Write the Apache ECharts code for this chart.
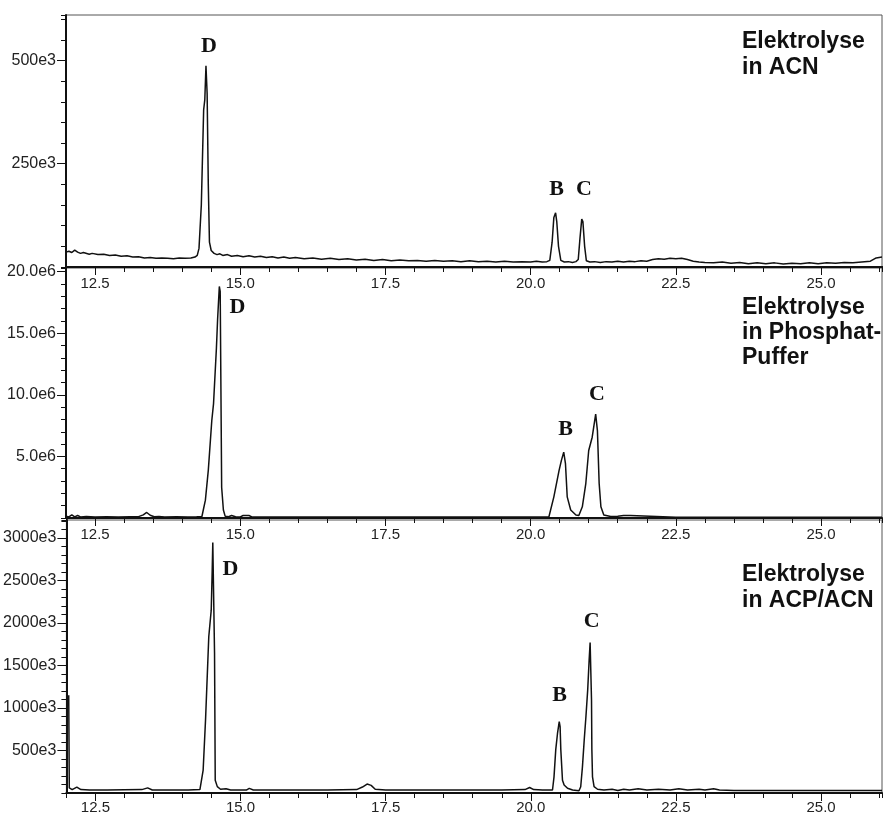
<!DOCTYPE html>
<html>
<head>
<meta charset="utf-8">
<title>Elektrolyse Chromatogramme</title>
<script src="https://cdn.jsdelivr.net/npm/echarts@6/dist/echarts.min.js"></script>
<style>
    html, body { margin: 0; padding: 0; background: #fff; }
    #chart { width: 884px; height: 816px; }
</style>
</head>
<body>
<div id="chart"></div>
<script>

    // retention time (min) vs. signal
    const acnTrace = [
        [12.00, 36000], [12.05, 38000], [12.10, 35000], [12.15, 41000], [12.20, 36000], [12.25, 33000],
        [12.30, 35000], [12.40, 31000], [12.45, 33000], [12.55, 30000], [12.65, 31000], [12.75, 28000],
        [12.85, 29000], [12.95, 26000], [13.05, 27000], [13.15, 24000], [13.25, 25000], [13.35, 22000],
        [13.45, 23000], [13.55, 21000], [13.65, 22000], [13.75, 21000], [13.85, 20000], [13.95, 22000],
        [14.05, 21000], [14.15, 22000], [14.22, 24000], [14.26, 28000], [14.29, 45000], [14.33, 150000],
        [14.37, 380000], [14.39, 405000], [14.41, 487000], [14.42, 487000], [14.43, 420000], [14.45, 200000],
        [14.47, 60000], [14.50, 40000], [14.55, 33000], [14.60, 30000], [14.65, 32000], [14.70, 28000],
        [14.78, 30000], [14.85, 26000], [14.95, 28000], [15.05, 25000], [15.15, 27000], [15.25, 24000],
        [15.35, 26000], [15.45, 23000], [15.55, 25000], [15.65, 22000], [15.75, 24000], [15.85, 21000],
        [15.95, 23000], [16.10, 20000], [16.25, 22000], [16.40, 19000], [16.55, 21000], [16.70, 18000],
        [16.85, 20000], [17.00, 17000], [17.15, 19000], [17.30, 16000], [17.45, 18000], [17.60, 15000],
        [17.75, 17000], [17.90, 15000], [18.05, 16000], [18.20, 14000], [18.35, 16000], [18.50, 14000],
        [18.65, 15000], [18.80, 13000], [18.95, 15000], [19.10, 13000], [19.25, 14000], [19.40, 12000],
        [19.55, 14000], [19.70, 12000], [19.85, 13000], [20.00, 12000], [20.10, 14000], [20.20, 12000],
        [20.28, 13000], [20.33, 16000], [20.37, 60000], [20.40, 120000], [20.43, 131000], [20.45, 110000],
        [20.48, 50000], [20.52, 16000], [20.58, 12000], [20.65, 13000], [20.72, 11000], [20.78, 13000],
        [20.82, 18000], [20.85, 70000], [20.88, 116000], [20.90, 110000], [20.93, 50000], [20.96, 15000],
        [21.02, 12000], [21.10, 13000], [21.20, 11000], [21.30, 13000], [21.40, 12000], [21.50, 14000],
        [21.60, 12000], [21.70, 14000], [21.80, 13000], [21.90, 15000], [22.00, 14000], [22.10, 18000],
        [22.20, 20000], [22.30, 19000], [22.40, 21000], [22.50, 20000], [22.60, 21000], [22.70, 18000],
        [22.80, 14000], [22.90, 12000], [23.00, 11000], [23.15, 10000], [23.30, 12000], [23.45, 9000],
        [23.60, 11000], [23.75, 8000], [23.90, 10000], [24.05, 8000], [24.20, 10000], [24.35, 7000],
        [24.50, 9000], [24.65, 8000], [24.80, 10000], [24.95, 8000], [25.10, 10000], [25.25, 9000],
        [25.40, 11000], [25.55, 10000], [25.70, 12000], [25.85, 14000], [25.95, 22000], [26.05, 24000]
    ];

    const phosTrace = [
        [12.00, 150000], [12.05, 90000], [12.10, 250000], [12.15, 90000], [12.20, 200000], [12.25, 90000],
        [12.35, 120000], [12.50, 90000], [12.70, 100000], [12.90, 90000], [13.10, 100000], [13.25, 110000],
        [13.33, 250000], [13.39, 450000], [13.45, 220000], [13.52, 100000], [13.60, 130000], [13.70, 90000],
        [13.90, 100000], [14.10, 90000], [14.25, 100000], [14.34, 120000], [14.40, 1450000], [14.45, 3870000],
        [14.51, 7900000], [14.54, 9270000], [14.59, 13800000], [14.61, 16100000], [14.64, 18800000],
        [14.655, 18400000], [14.68, 2500000], [14.71, 650000], [14.74, 150000], [14.80, 100000],
        [14.85, 200000], [14.92, 100000], [15.00, 90000], [15.05, 200000], [15.15, 200000], [15.20, 90000],
        [15.60, 90000], [16.00, 80000], [16.50, 80000], [17.00, 80000], [17.50, 80000], [18.00, 80000],
        [18.50, 80000], [19.00, 80000], [19.50, 80000], [20.00, 80000], [20.315, 100000], [20.40, 1720000],
        [20.49, 3870000], [20.53, 4680000], [20.57, 5350000], [20.60, 4410000], [20.63, 1720000],
        [20.69, 650000], [20.78, 240000], [20.83, 200000], [20.89, 910000], [20.95, 2800000],
        [21.00, 5480000], [21.06, 6560000], [21.12, 8440000], [21.15, 7100000], [21.18, 2800000],
        [21.21, 910000], [21.26, 240000], [21.38, 120000], [21.50, 150000], [21.60, 200000],
        [21.72, 200000], [21.75, 80000], [22.50, 70000], [23.50, 70000], [24.50, 70000], [25.50, 70000],
        [26.05, 70000]
    ];

    const acpTrace = [
        [12.04, 1150000], [12.05, 60000], [12.10, 40000], [12.18, 70000], [12.25, 40000], [12.40, 35000],
        [12.70, 35000], [13.00, 38000], [13.30, 40000], [13.40, 60000], [13.48, 35000], [13.80, 35000],
        [14.10, 35000], [14.30, 40000], [14.32, 44000], [14.356, 270000], [14.397, 860000], [14.453, 1840000],
        [14.495, 2150000], [14.512, 2620000], [14.522, 2945000], [14.54, 2945000], [14.552, 1650000],
        [14.564, 150000], [14.60, 75000], [14.655, 44000], [14.75, 50000], [14.83, 35000], [15.10, 35000],
        [15.15, 55000], [15.22, 35000], [15.60, 35000], [16.00, 35000], [16.50, 35000], [17.00, 40000],
        [17.10, 70000], [17.18, 105000], [17.25, 90000], [17.32, 45000], [17.50, 35000], [18.00, 35000],
        [18.50, 35000], [19.00, 35000], [19.50, 35000], [19.90, 40000], [19.98, 65000], [20.05, 40000],
        [20.20, 35000], [20.374, 35000], [20.40, 190000], [20.43, 510000], [20.46, 700000], [20.49, 840000],
        [20.505, 780000], [20.517, 510000], [20.546, 150000], [20.574, 94000], [20.633, 55000],
        [20.72, 35000], [20.83, 27000], [20.86, 74000], [20.89, 310000], [20.92, 620000], [20.95, 900000],
        [20.98, 1210000], [21.005, 1560000], [21.022, 1770000], [21.046, 1090000], [21.052, 510000],
        [21.063, 190000], [21.09, 74000], [21.15, 44000], [21.26, 35000], [21.40, 45000], [21.50, 30000],
        [21.60, 45000], [21.70, 35000], [21.85, 50000], [22.00, 35000], [22.20, 45000], [22.40, 35000],
        [22.55, 50000], [22.70, 35000], [22.90, 45000], [23.00, 35000], [23.15, 50000], [23.25, 35000],
        [23.50, 30000], [24.50, 30000], [26.05, 30000]
    ];

    // tick labels
    const xTickLabels = [12.5, 15.0, 17.5, 20.0, 22.5, 25.0];
    const acnTickLabels = [250000, 500000];
    const phosTickLabels = [5000000, 10000000, 15000000, 20000000];
    const acpTickLabels = [500000, 1000000, 1500000, 2000000, 2500000, 3000000];

    const panelTitles = [
        ['Elektrolyse', 'in ACN'],
        ['Elektrolyse', 'in Phosphat-', 'Puffer'],
        ['Elektrolyse', 'in ACP/ACN']
    ];

    let myChart = echarts.init(document.getElementById('chart'), null, { renderer: 'canvas' });

    const black = '#111';
    const textColor = '#222';

    const panels = [
        { top: 15,  height: 252, max: 610000,   interval: 50000,   labels: acnTickLabels,
          fmt: v => (v / 1000) + 'e3', xMargin: 9, data: acnTrace },
        { top: 268, height: 250, max: 20300000, interval: 1000000, labels: phosTickLabels,
          fmt: v => (v / 1000000).toFixed(1) + 'e6', xMargin: 9, data: phosTrace },
        { top: 520, height: 273, max: 3210000,  interval: 100000,  labels: acpTickLabels,
          fmt: v => (v / 1000) + 'e3', xMargin: 7, data: acpTrace }
    ];

    let grid = [], xAxis = [], yAxis = [], series = [];

    panels.forEach(function (p, i) {
        grid.push({
            left: 66, width: 816, top: p.top, height: p.height,
            show: true, borderColor: '#555', borderWidth: 1, backgroundColor: 'transparent'
        });
        // minor ticks + labels
        xAxis.push({
            gridIndex: i, type: 'value', position: 'bottom', min: 12, max: 26.05, interval: 0.5,
            axisLine: { show: true, onZero: false, lineStyle: { color: black, width: 2 } },
            axisTick: { show: true, length: 5, lineStyle: { color: black, width: 1 } },
            axisLabel: {
                customValues: xTickLabels, margin: p.xMargin, fontSize: 15,
                fontFamily: 'Liberation Sans', color: textColor,
                formatter: v => v.toFixed(1)
            },
            splitLine: { show: false }
        });
        // longer ticks at the labels
        xAxis.push({
            gridIndex: i, type: 'value', position: 'bottom', min: 12, max: 26.05,
            axisLine: { show: false },
            axisTick: { show: true, customValues: xTickLabels, length: 8, lineStyle: { color: black, width: 1 } },
            axisLabel: { show: false },
            splitLine: { show: false }
        });
        yAxis.push({
            gridIndex: i, type: 'value', position: 'left', min: 0, max: p.max, interval: p.interval,
            axisLine: { show: true, onZero: false, lineStyle: { color: black, width: 2 } },
            axisTick: { show: true, length: 5, lineStyle: { color: black, width: 1 } },
            axisLabel: {
                customValues: p.labels, margin: 10, fontSize: 16,
                fontFamily: 'Liberation Sans', color: textColor, formatter: p.fmt
            },
            splitLine: { show: false }
        });
        yAxis.push({
            gridIndex: i, type: 'value', position: 'left', min: 0, max: p.max,
            axisLine: { show: false },
            axisTick: { show: true, customValues: p.labels, length: 9, lineStyle: { color: black, width: 1 } },
            axisLabel: { show: false },
            splitLine: { show: false }
        });
        series.push({
            type: 'line',
            xAxisIndex: i * 2,
            yAxisIndex: i * 2,
            data: p.data,
            showSymbol: false,
            symbol: 'none',
            lineStyle: { color: black, width: 1.5 },
            animation: false
        });
    });

    // thick frame line on top of the first panel
    xAxis.push({
        gridIndex: 0, type: 'value', position: 'top', min: 12, max: 26.05,
        axisLine: { show: true, lineStyle: { color: black, width: 2 } },
        axisTick: { show: false }, axisLabel: { show: false }, splitLine: { show: false }
    });

    // peak letters and panel captions
    const peakFont = 'bold 22px "Liberation Serif", serif';
    const peakPos = [
        ['D', 209, 46], ['B', 556.5, 189], ['C', 584, 189],
        ['D', 237.5, 307.5], ['B', 565.7, 429], ['C', 597, 394],
        ['D', 230.5, 569], ['B', 559.5, 695], ['C', 591.7, 621]
    ];
    const titleY = [[41.5, 67.5], [307.5, 333, 358], [575, 601]];

    let graphic = [];
    peakPos.forEach(function (pk) {
        graphic.push({
            type: 'text', x: pk[1], y: pk[2], silent: true,
            style: { text: pk[0], font: peakFont, fill: '#111', align: 'center', verticalAlign: 'middle' }
        });
    });
    panelTitles.forEach(function (lines, i) {
        lines.forEach(function (t, j) {
            graphic.push({
                type: 'text', x: 742, y: titleY[i][j], silent: true,
                style: { text: t, font: 'bold 23px "Liberation Sans", Arial, sans-serif', fill: '#111',
                         align: 'left', verticalAlign: 'middle' }
            });
        });
    });

    let option = {
        animation: false,
        backgroundColor: '#fff',
        grid: grid,
        xAxis: xAxis,
        yAxis: yAxis,
        series: series,
        graphic: graphic
    };

    myChart.setOption(option, true);
</script>
</body>
</html>
